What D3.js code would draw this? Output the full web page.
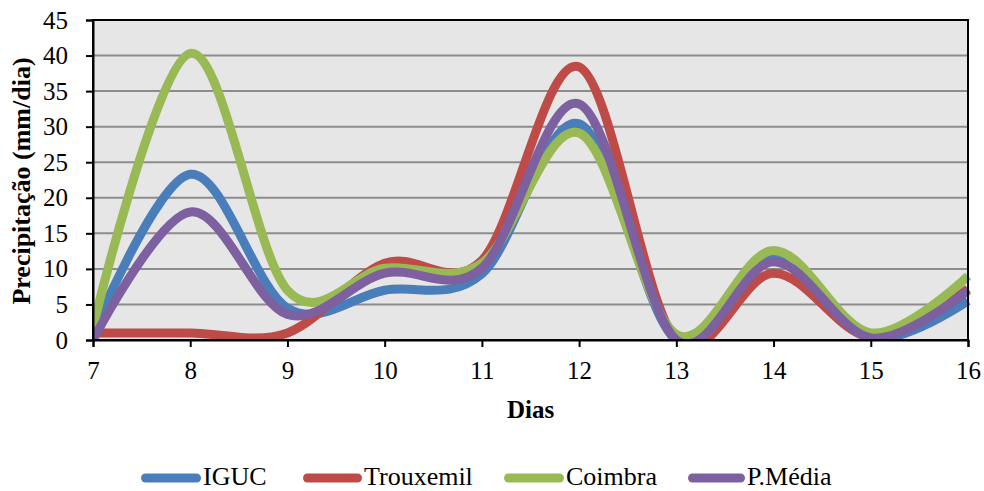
<!DOCTYPE html>
<html><head><meta charset="utf-8">
<script src="https://cdn.jsdelivr.net/npm/d3@7"></script>
<style>body{margin:0;background:#fff}svg{display:block}</style>
</head><body>
<svg id="c" width="984" height="491"></svg>
<script>
const days = [7, 8, 9, 10, 11, 12, 13, 14, 15, 16];
const iguc = [1, 23.3, 4.5, 7.0, 9.3, 30.4, 0, 11.4, 0.3, 5.5];
const trouxemil = [1, 1, 1, 10.8, 11.2, 38.4, 0, 9.4, 0.4, 7.2];
const coimbra = [1.8, 40.3, 7.0, 10.1, 10.8, 29.1, 0.8, 12.6, 1.0, 9.0];
const pmedia = [0, 18.0, 3.6, 9.4, 10.1, 33.2, 0, 11.0, 0.3, 7.0];
const seriesNames = ["IGUC", "Trouxemil", "Coimbra", "P.Média"];
const seriesColors = ["#4a7ebb", "#be4b48", "#98b954", "#7d60a0"];
const yTicks = [0, 5, 10, 15, 20, 25, 30, 35, 40, 45];

const svg = d3.select("#c");
const L = 93, R = 968, T = 20, B = 340;
const x = d3.scaleLinear().domain([7, 16]).range([L, R]);
const y = d3.scaleLinear().domain([0, 45]).range([B, T]);
const font = "Liberation Serif";

svg.append("rect").attr("x", L).attr("y", T).attr("width", R - L).attr("height", B - T).attr("fill", "#e6e6e6");

svg.append("g").selectAll("line").data(yTicks.filter(d => d > 0 && d < 45)).join("line")
  .attr("x1", L).attr("x2", R).attr("y1", d => y(d)).attr("y2", d => y(d))
  .attr("stroke", "#8c8c8c").attr("stroke-width", 2);

svg.append("clipPath").attr("id", "clip").append("rect").attr("x", L).attr("y", T - 5).attr("width", R - L + 4).attr("height", B - T + 5);

const data = [iguc, trouxemil, coimbra, pmedia];
const line = d3.line().x((d, i) => x(days[i])).y(d => y(d)).curve(d3.curveCatmullRom.alpha(0));
const g = svg.append("g").attr("clip-path", "url(#clip)");
data.forEach((s, k) => {
  g.append("path").attr("d", line(s)).attr("fill", "none").attr("stroke", seriesColors[k])
    .attr("stroke-width", 9).attr("stroke-linejoin", "round");
});

svg.append("rect").attr("x", L).attr("y", T).attr("width", R - L).attr("height", B - T)
  .attr("fill", "none").attr("stroke", "#000").attr("stroke-width", 2);

const xAxis = d3.axisBottom(x).tickValues(days).tickSize(7).tickPadding(14).tickFormat(d3.format("d"));
const gx = svg.append("g").attr("transform", `translate(0,${B})`).call(xAxis);
gx.select(".domain").attr("stroke", "#000").attr("stroke-width", 2);
gx.selectAll(".tick line").attr("stroke", "#000").attr("stroke-width", 2);
gx.selectAll("text").attr("fill", "#000").attr("font-family", font).attr("font-size", 25);

const yAxis = d3.axisLeft(y).tickValues(yTicks).tickSize(7).tickPadding(18);
const gy = svg.append("g").attr("transform", `translate(${L},0)`).call(yAxis);
gy.select(".domain").attr("stroke", "#000").attr("stroke-width", 2);
gy.selectAll(".tick line").attr("stroke", "#000").attr("stroke-width", 2);
gy.selectAll("text").attr("fill", "#000").attr("font-family", font).attr("font-size", 25);

svg.append("text").attr("x", (L + R) / 2).attr("y", 418).attr("text-anchor", "middle")
  .attr("font-family", font).attr("font-size", 25).attr("font-weight", "bold").text("Dias");
svg.append("text").attr("transform", `translate(30,181) rotate(-90)`).attr("text-anchor", "middle")
  .attr("font-family", font).attr("font-size", 26).attr("font-weight", "bold").text("Precipitação (mm/dia)");

const legSw = [[141, 201], [303, 362], [504, 564], [688, 745]];
const legTx = [203, 364, 566, 747];
const lg = svg.append("g");
seriesNames.forEach((n, k) => {
  lg.append("line").attr("x1", legSw[k][0] + 4.5).attr("x2", legSw[k][1] - 4.5).attr("y1", 478).attr("y2", 478)
    .attr("stroke", seriesColors[k]).attr("stroke-width", 9).attr("stroke-linecap", "round");
  lg.append("text").attr("x", legTx[k]).attr("y", 485).attr("font-family", font).attr("font-size", 26)
    .attr("fill", "#000").text(n);
});
</script>
</body></html>
